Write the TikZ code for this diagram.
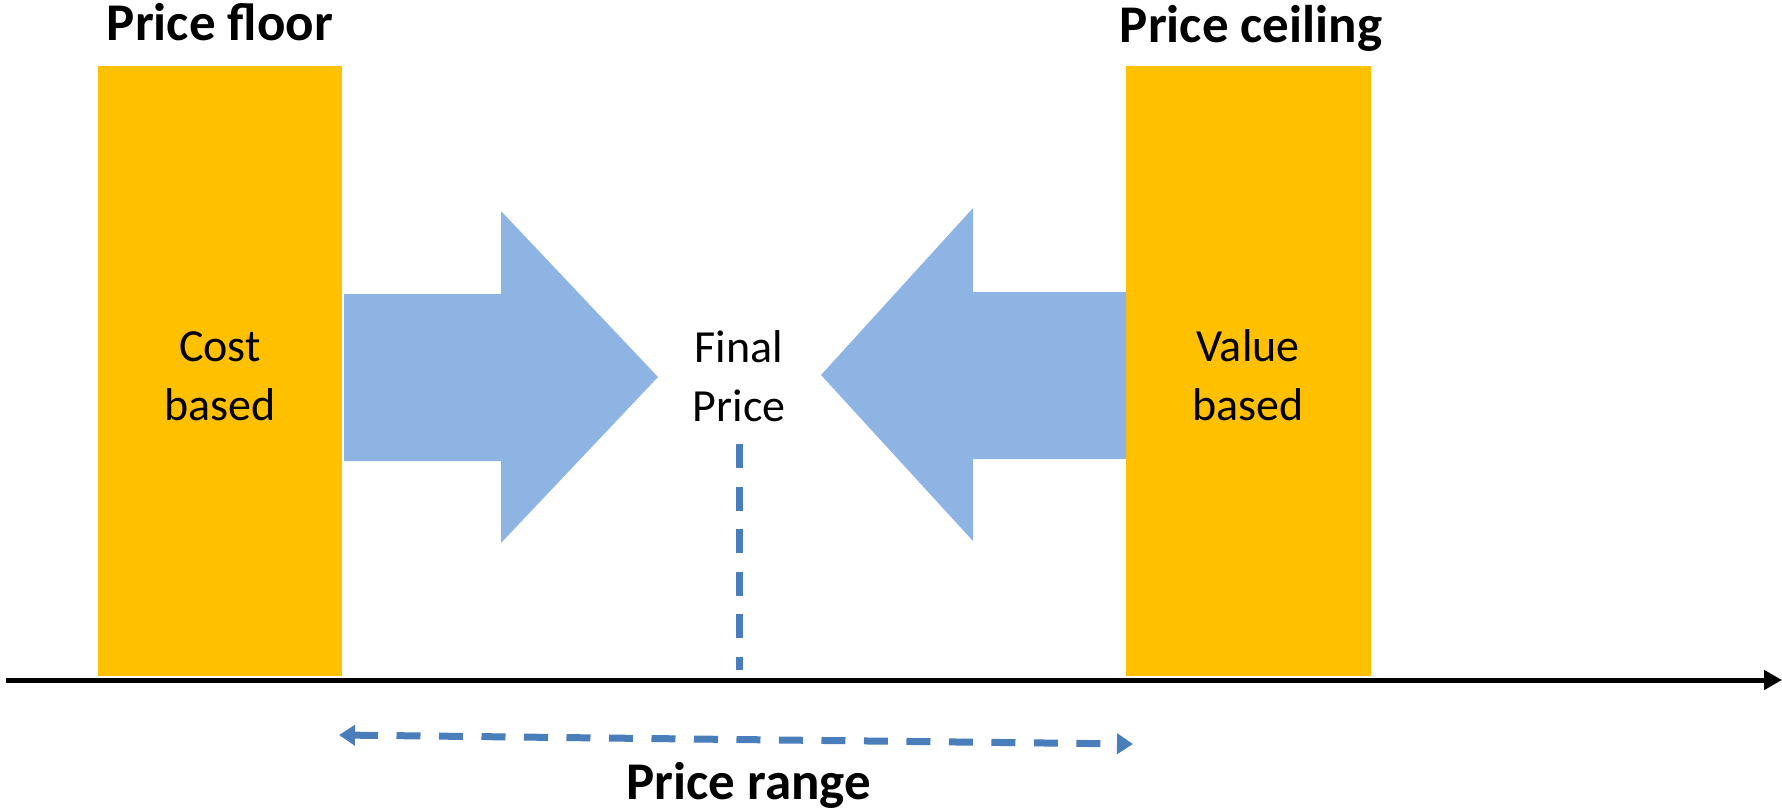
\documentclass[tikz,border=0pt]{standalone}
\usepackage{fontspec}
\setmainfont{Carlito}
\usetikzlibrary{arrows.meta}
\definecolor{gold}{HTML}{FFC000}
\definecolor{lightblue}{HTML}{8EB4E3}
\definecolor{dashblue}{HTML}{4A7EBB}
\begin{document}
\begin{tikzpicture}[x=1pt,y=-1pt,
  bar/.style={fill=gold,draw=none},
  blockarrow/.style={fill=lightblue,draw=none},
  bodytext/.style={font=\fontsize{46}{59}\selectfont,align=center,inner sep=0pt},
  titletext/.style={font=\fontsize{53}{64}\selectfont\bfseries,inner sep=0pt,anchor=base},
  dashline/.style={draw=dashblue,line width=7pt,dash pattern=on 24pt off 18.5pt},
  axis/.style={draw=black,line width=5pt,-{Triangle[length=18pt,width=19pt]}}]
\useasboundingbox (0,0) rectangle (1782,811);
% bars
\fill[bar] (98,66) rectangle (342,676);
\fill[bar] (1126,66) rectangle (1371,676);
% block arrows
\fill[blockarrow] (344,294) -- (501,294) -- (501,211) -- (658,377) -- (501,543) -- (501,461) -- (344,461) -- cycle;
\fill[blockarrow] (1126,292) -- (973,292) -- (973,208) -- (821,375) -- (973,541) -- (973,459) -- (1126,459) -- cycle;
% texts
\node[bodytext] (cost) at (220,376) {Cost\\based};
\node[bodytext] (value) at (1248,375) {Value\\based};
\node[bodytext] (final) at (739,376) {Final\\Price};
\node[titletext] (floor) at (220,40) {Price floor};
\node[titletext] (ceiling) at (1251,42) {Price ceiling};
\node[titletext] (range) at (749,799) {Price range};
% axis
\coordinate (axstart) at (6,680);
\coordinate (axend) at (1782,680);
\draw[axis] (axstart) -- (axend);
% vertical dashed
\coordinate (vtop) at (739,444);
\coordinate (vbot) at (739,670);
\draw[dashline] (vtop) -- (vbot);
% range arrow
\coordinate (rl) at (339,735);
\coordinate (rr) at (1133,744);
\draw[dashline,{Triangle[length=16pt,width=20pt]}-{Triangle[length=16pt,width=20pt]}] (rl) -- (rr);
\end{tikzpicture}
\end{document}
